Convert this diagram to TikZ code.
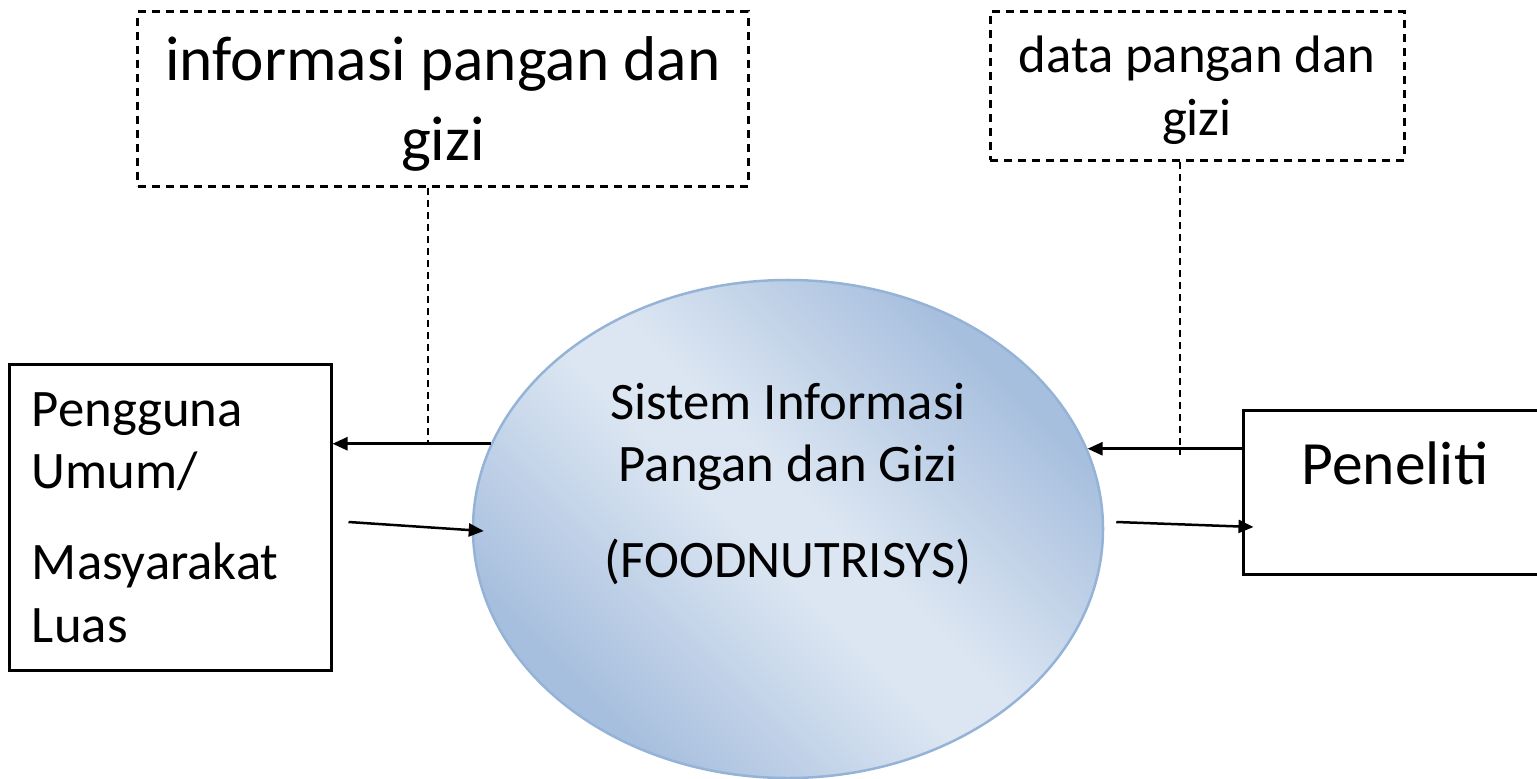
\documentclass[tikz,border=0pt]{standalone}
\usepackage{fontspec}
\setmainfont{Carlito}
\usetikzlibrary{arrows.meta,calc,shapes.geometric}

\definecolor{bubbledark}{HTML}{A7BFDE}
\definecolor{bubblelight}{HTML}{DCE6F2}
\definecolor{bubbleedge}{HTML}{95B3D7}

% dark at two opposite corners, light band through the middle
\pgfdeclarehorizontalshading{bubble}{100bp}{color(0bp)=(bubbledark); color(27bp)=(bubbledark); color(47bp)=(bubblelight); color(53bp)=(bubblelight); color(73bp)=(bubbledark); color(100bp)=(bubbledark)}

\begin{document}
\begin{tikzpicture}[
          x=0.2mm, y=-0.2mm,
          entity/.style={draw, line width=0.6mm, inner sep=0pt},
          store/.style={draw, line width=0.6mm, dash pattern=on 1.6mm off 1.2mm, inner sep=0pt},
          flow/.style={line width=0.5mm, -{Triangle[length=3mm, width=2.6mm]}},
          link/.style={line width=0.45mm, dash pattern=on 1.4mm off 1mm}
        ]
        \useasboundingbox (0,0) rectangle (1537,779);

        % the process
        \node[ellipse, draw=bubbleedge, line width=0.5mm, shading=bubble, shading angle=45,
              minimum width=126mm, minimum height=99.6mm, inner sep=0pt] (sis) at (788,529) {};
        \node[align=center, font=\fontsize{30}{35.5}\selectfont] (sistext) at (788,484)
            {Sistem Informasi\\ Pangan dan Gizi\\[19pt] (FOODNUTRISYS)};

        % external entities
        \node[entity, minimum width=64.2mm, minimum height=61mm, text width=55.4mm, inner xsep=4.4mm,
              align=left, font=\fontsize{30}{35.7}\selectfont] (user) at (170.5,517.5)
            {Pengguna\\ Umum/\\[16pt] Masyarakat\\ Luas};
        \node[entity, minimum width=60mm, minimum height=32.8mm] (peneliti) at (1393,492) {};
        \node[font=\fontsize{35}{42}\selectfont] (penelitilabel) at (1395,463) {Peneliti};

        % data stores
        \node[store, minimum width=122mm, minimum height=34.8mm] (info) at (443,99) {};
        \node[align=center, font=\fontsize{36}{45}\selectfont] (infotext) at (443,104)
            {informasi pangan dan\\ gizi};
        \node[store, minimum width=82.8mm, minimum height=29.6mm] (data) at (1197,86) {};
        \node[align=center, font=\fontsize{30}{35.7}\selectfont] (datatext) at (1197,90)
            {data pangan dan\\ gizi};

        % flows
        \draw[flow] (sis.164) -- (user.east |- sis.164);
        \draw[flow] ($(user.east)+(16,4.5)$) -- ($(sis.west)+(12,2)$);
        \draw[flow] (peneliti.west |- sis.15) -- (sis.15);
        \draw[flow] ($(sis.east)+(12,-7)$) -- ($(peneliti.west)+(12,35)$);

        \coordinate (infofoot) at ($(info.south)+(-15,0)$);
        \coordinate (datafoot) at ($(data.south)+(-17,0)$);
        \draw[link] (infofoot) -- (infofoot |- sis.164);
        \draw[link] (datafoot) -- ($(datafoot |- sis.15)+(0,6)$);

\end{tikzpicture}
\end{document}
